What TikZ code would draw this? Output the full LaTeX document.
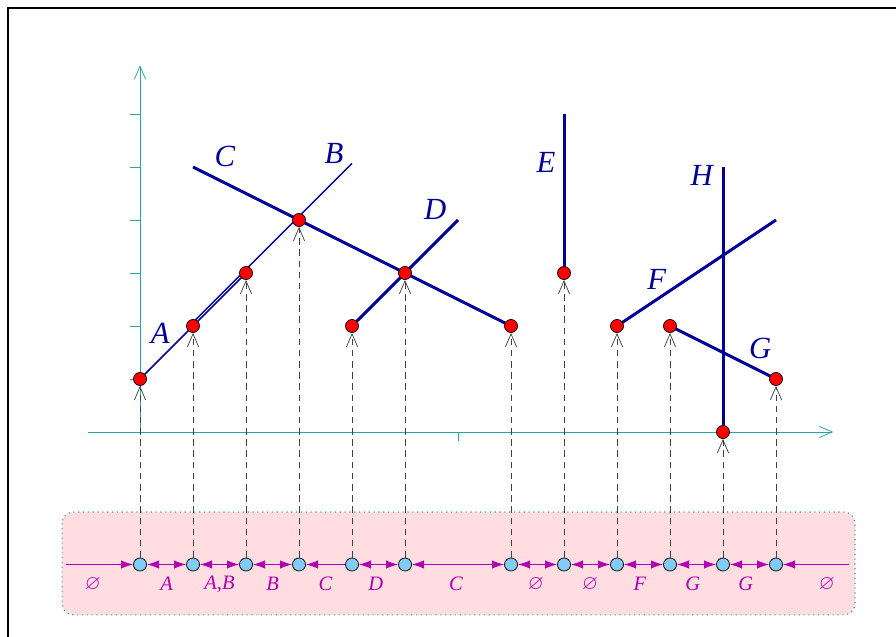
\documentclass[tikz,border=0pt]{standalone}
\usepackage{amsmath,amssymb}
\usepackage{fontspec}
\setmainfont{Liberation Serif}
\usepackage{tikz}
\usetikzlibrary{arrows.meta}
\definecolor{navy}{HTML}{000099}
\definecolor{aqua}{HTML}{2AA5A5}
\definecolor{plum}{HTML}{B000B0}
\definecolor{blush}{HTML}{FFDDE0}
\definecolor{sky}{HTML}{80CCF5}

\begin{document}
\begin{tikzpicture}[
  seg/.style={navy,line width=1.6pt},
  thinseg/.style={navy,line width=0.8pt},
  evt/.style={circle,draw=black,fill=red,inner sep=0pt,minimum size=7pt},
  qpt/.style={circle,draw=black,fill=sky,inner sep=0pt,minimum size=7pt},
  proj/.style={draw=black!75,dash pattern=on 3.5pt off 2.5pt,
    -{Straight Barb[length=7pt,width=6pt]}},
  ax/.style={aqua,-{Straight Barb[length=7pt,width=6pt]}},
  sweep/.style={plum,line width=0.6pt},
  tip/.style={{Latex[length=6.5pt,width=4.5pt]}-{Latex[length=6.5pt,width=4.5pt]}},
  rtip/.style={-{Latex[length=6.5pt,width=4.5pt]}},
  ltip/.style={{Latex[length=6.5pt,width=4.5pt]}-},
  lbl/.style={navy,font=\fontsize{16.5}{18}\selectfont\itshape},
  slbl/.style={plum,font=\fontsize{11}{12}\selectfont\itshape}
]
\useasboundingbox (-2.642,-3.868) rectangle (14.264,8.151);
\draw[line width=0.7pt] (-2.49,-3.868) -- (-2.49,8.0) -- (14.264,8.0);

\draw[ax] (-0.98,0) -- (13.08,0);
\draw[ax] (0,0) -- (0,6.92);
\foreach \y in {1,...,6} \draw[aqua] (-0.19,\y) -- (0,\y);
\draw[aqua] (6,0) -- (6,-0.17);

\draw[fill=blush,draw=aqua,dotted,line width=0.6pt,rounded corners=6pt]
  (-1.47,-1.51) rectangle (13.49,-3.45);

\draw[thinseg] (0,1) -- (2,3);
\draw[thinseg] (1,2.07) -- (4,5.07);
\draw[seg] (1,5) -- (7,2);
\draw[seg] (4,2) -- (6,4);
\draw[seg] (8,3) -- (8,6);
\draw[seg] (9,2) -- (12,4);
\draw[seg] (10,2) -- (12,1);
\draw[seg] (11,0) -- (11,5);

\node[lbl] (lA) at (0.38,1.87) {A};
\node[lbl] (lB) at (3.66,5.26) {B};
\node[lbl] (lC) at (1.60,5.19) {C};
\node[lbl] (lD) at (5.57,4.19) {D};
\node[lbl] (lE) at (7.66,5.08) {E};
\node[lbl] (lF) at (9.75,2.87) {F};
\node[lbl] (lG) at (11.70,1.57) {G};
\node[lbl] (lH) at (10.60,4.85) {H};

\foreach \x/\y in {0/1,1/2,2/3,3/4,4/2,5/3,7/2,8/3,9/2,10/2,11/0,12/1}
  \node[evt] (e\x) at (\x,\y) {};

\coordinate (lend) at (-1.4,-2.5);
\coordinate (rend) at (13.38,-2.5);
\foreach \x in {0,...,5,7,8,...,12}
  \node[qpt] (q\x) at (\x,-2.5) {};

\draw[sweep,rtip] (lend) -- (q0);
\draw[sweep,tip] (q0) -- (q1);
\draw[sweep,tip] (q1) -- (q2);
\draw[sweep,tip] (q2) -- (q3);
\draw[sweep,ltip] (q3) -- (q4);
\draw[sweep,tip] (q4) -- (q5);
\draw[sweep,tip] (q5) -- (q7);
\draw[sweep,tip] (q7) -- (q8);
\draw[sweep,tip] (q8) -- (q9);
\draw[sweep,tip] (q9) -- (q10);
\draw[sweep,tip] (q10) -- (q11);
\draw[sweep,tip] (q11) -- (q12);
\draw[sweep,ltip] (q12) -- (rend);

\foreach \x in {0,...,5,7,8,...,12}
  \draw[proj] (q\x) -- (e\x);

\node[slbl] (s0) at (-0.89,-2.87) {$\varnothing$};
\node[slbl] (s1) at (0.50,-2.87) {A};
\node[slbl] (s2) at (1.50,-2.87) {A,B};
\node[slbl] (s3) at (2.50,-2.87) {B};
\node[slbl] (s4) at (3.50,-2.87) {C};
\node[slbl] (s5) at (4.45,-2.87) {D};
\node[slbl] (s6) at (5.96,-2.87) {C};
\node[slbl] (s7) at (7.47,-2.87) {$\varnothing$};
\node[slbl] (s8) at (8.49,-2.87) {$\varnothing$};
\node[slbl] (s9) at (9.43,-2.87) {F};
\node[slbl] (s10) at (10.43,-2.87) {G};
\node[slbl] (s11) at (11.43,-2.87) {G};
\node[slbl] (s12) at (12.96,-2.87) {$\varnothing$};
\end{tikzpicture}
\end{document}
